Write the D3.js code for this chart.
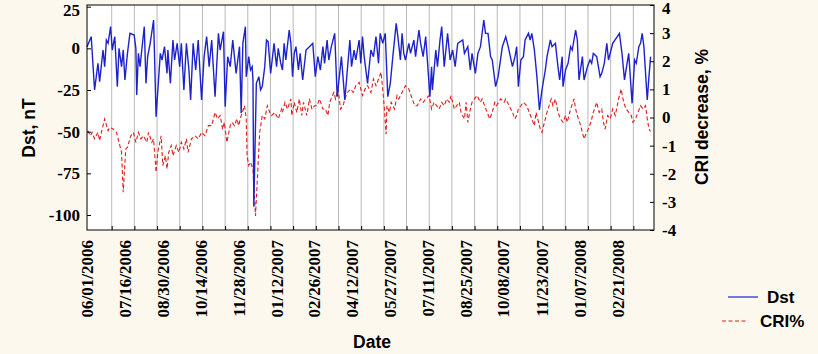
<!DOCTYPE html>
<html>
<head>
<meta charset="utf-8">
<script src="https://cdn.jsdelivr.net/npm/d3@7"></script>
<style>
  body { margin: 0; background: #fcf8ee; }
</style>
</head>
<body>
<div id="chart"></div>
<script>
// Data: day offsets from 06/01/2006 and values
const startDate = new Date(2006, 5, 1);
const spanDays = 673;

const dstDay = [0, 5, 9, 13, 15, 19, 21, 23, 25, 28, 30, 33, 36, 38, 41, 43, 45, 48, 51, 56, 58, 59, 61, 63, 65, 68, 70, 72, 75, 79, 80, 82, 87, 89, 92, 95, 96, 99, 102, 104, 107, 110, 112, 115, 118, 121, 123, 126, 129, 132, 136, 139, 142, 145, 148, 152, 156, 158, 162, 164, 167, 170,
  173, 177, 181, 183, 185, 188, 189, 192, 194, 196, 197, 198, 201, 204, 206, 208, 211, 213, 215, 218, 222, 225, 227, 230, 232, 234, 236, 240, 242, 244, 246, 248, 251, 253, 256, 260, 264, 268, 271, 274, 277, 280, 282, 285, 287, 290, 294, 297, 302, 306, 312, 314, 317, 319, 323, 325, 327, 329, 333, 337,
  340, 343, 346, 348, 351, 354, 357, 360, 363, 367, 369, 372, 374, 376, 378, 382, 384, 388, 390, 394, 396, 399, 402, 404, 407, 409, 410, 414, 416, 419, 421, 424, 428, 431, 434, 437, 440, 446, 448, 452, 455, 457, 461, 464, 467, 471, 473, 476, 479, 481, 485, 488, 493, 497, 500, 505,
  508, 510, 512, 515, 518, 520, 524, 526, 528, 531, 534, 537, 540, 544, 546, 550, 552, 556, 559, 561, 564, 565, 568, 571, 574, 576, 580, 582, 584, 588, 590, 594, 597, 599, 601, 605, 609, 611, 614, 617, 619, 622, 624, 632, 635, 638, 641, 643, 647, 650, 652, 655, 657, 659, 661, 665, 667, 669];
const dstNT = [1, 7, -25, -9, -20, -1, -11, 5, 3, 13, -1, 7, -23, 0, -11, -1, -19, -3, 9, 8, 0, -28, -3, -11, -1, 13, -21, -5, 3, 17, -1, -41, -3, -7, 1, -15, -1, -21, 5, -7, 3, -11, 3, -25, 3, -13, -31, 3, -13, 5, -31, -5, 7, -11, 5, -29, 9, -1, 10, -35, -5, -11,
  5, -15, 1, -39, 3, 13, -17, -5, -13, -11, -19, -95, -21, -17, -25, -23, -11, 5, 4, -15, 3, -11, 0, -9, -13, 3, -7, 11, 3, -17, -3, 1, -13, -3, -19, -1, 1, 3, -17, -5, -13, 1, -9, 5, -7, 1, 9, -29, -5, -31, 5, -11, -1, -7, 5, -9, 7, -5, -21, -1,
  -5, 7, -9, 9, 3, 9, -29, -21, -5, 15, 7, -7, 9, -3, -7, 3, -3, 5, -5, 11, 3, -5, 7, -7, -29, -11, -25, -1, -11, 5, 13, -11, 9, -7, -1, -11, 3, 5, -3, 1, -13, -3, -15, -3, 1, 17, 9, 9, -5, -7, -23, -17, 1, 7, 1, -11,
  -5, 1, -23, -7, -5, 5, 9, 5, 9, -1, -17, -37, -25, -13, -5, 5, 1, 3, -11, -19, -5, -23, -13, -9, 1, -1, 11, 5, -19, -5, -19, -11, -7, -9, -3, -5, -17, -15, -9, 3, -7, -1, 3, 9, -3, -19, -9, -3, -33, -7, -9, 1, 3, 9, 1, -31, -17, -5];

const criDay = [1, 4, 6, 9, 13, 15, 18, 21, 25, 27, 31, 35, 39, 41, 43, 46, 48, 52, 55, 58, 61, 64, 67, 71, 73, 77, 79, 82, 84, 88, 90, 93, 95, 97, 100, 102, 106, 109, 112, 115, 118, 120, 124, 128, 132, 136, 140, 144, 148, 152, 155, 158, 161, 163, 166, 170,
  172, 175, 178, 180, 183, 187, 189, 190, 192, 194, 197, 198, 200, 203, 205, 208, 211, 214, 217, 219, 223, 227, 231, 232, 235, 238, 242, 243, 246, 249, 252, 255, 257, 261, 264, 267, 270, 273, 276, 280, 283, 286, 288, 293, 295, 298, 301, 304, 306, 309, 313, 316, 319, 323, 325, 327, 330, 333, 337,
  340, 343, 349, 351, 353, 355, 356, 359, 361, 365, 368, 370, 374, 378, 382, 386, 389, 392, 396, 399, 402, 406, 409, 412, 415, 418, 421, 424, 427, 430, 432, 436, 439, 442, 444, 448, 450, 452, 455, 457, 460, 463, 467, 469, 472, 475, 478, 481, 484, 486, 491, 495, 497, 501, 505, 508,
  510, 512, 518, 522, 525, 528, 531, 533, 535, 538, 540, 543, 546, 551, 553, 556, 559, 562, 565, 568, 570, 574, 578, 580, 582, 586, 588, 590, 593, 595, 598, 601, 605, 608, 611, 613, 615, 618, 621, 624, 627, 631, 634, 637, 640, 643, 646, 648, 651, 654, 657, 660, 663, 665, 667, 669];
const criPct = [-0.47, -0.65, -0.53, -0.76, -0.53, -0.82, -0.41, -0.05, -0.47, -0.35, -0.41, -0.53, -1.0, -1.24, -2.66, -1.12, -1.06, -0.65, -0.53, -0.88, -0.53, -0.76, -0.65, -0.88, -0.53, -0.88, -0.76, -1.95, -1.24, -0.65, -1.71, -1.36, -1.83, -1.24, -1.0, -1.36, -1.0, -1.24, -0.88, -1.12, -0.76, -1.24, -0.76, -0.65, -0.76, -0.53, -0.65, -0.29, -0.29, 0.18, -0.05, 0.07, -0.41, -0.17, -0.88, -0.29,
  -0.17, -0.29, -0.05, -0.29, 0.07, 0.42, -0.05, -1.36, -1.71, -1.59, -1.83, -2.42, -3.5, -1.71, -0.53, 0.07, -0.05, 0.42, 0.18, 0.07, 0.18, -0.05, 0.3, 0.18, 0.54, 0.3, 0.66, 0.07, 0.54, 0.18, 0.66, 0.07, 0.54, 0.07, 0.66, 0.3, 0.42, 0.42, 0.66, 0.3, 0.3, 0.07, 0.54, 0.89, 0.66, 1.01, 0.3, 0.42, 0.66, 0.89, 1.01, 0.89, 1.13, 1.25, 1.01, 0.78, 1.01, 1.13, 0.89,
  1.37, 1.13, 1.61, 1.01, 0.3, -0.59, 0.42, 0.18, 0.54, 0.3, 0.78, 0.66, 0.89, 1.13, 1.01, 0.66, 0.42, 0.42, 0.66, 0.54, 0.66, 0.78, 0.3, 0.54, 0.42, 0.3, 0.54, 0.42, 0.66, 0.54, 0.78, 0.3, 0.42, 0.54, 0.18, -0.05, 0.54, -0.17, 0.3, 0.54, 0.66, 0.78, 0.54, 0.66, 0.42, 0.18, -0.05, 0.18, 0.54, 0.42, 0.66, 0.54, 0.66, 0.42, 0.18, -0.05,
  0.07, 0.3, 0.54, 0.42, 0.18, -0.05, -0.29, 0.18, -0.05, -0.41, -0.53, -0.17, 0.18, 0.66, 0.42, 0.66, 0.18, -0.05, -0.17, 0.07, -0.17, 0.3, 0.66, 0.3, 0.07, -0.29, -0.53, -0.76, -0.53, -0.41, -0.17, 0.18, 0.54, 0.18, 0.3, -0.17, -0.41, 0.07, -0.05, 0.3, 0.07, 0.66, 1.01, 0.54, 0.3, 0.18, 0.07, -0.17, -0.05, 0.18, 0.42, 0.3, 0.42, -0.05, -0.41, -0.5];

const dateLabels = ["06/01/2006", "07/16/2006", "08/30/2006", "10/14/2006", "11/28/2006", "01/12/2007", "02/26/2007", "04/12/2007",
  "05/27/2007", "07/11/2007", "08/25/2007", "10/08/2007", "11/23/2007", "01/07/2008", "02/21/2008"];
const dstTicks = [-100, -75, -50, -25, 0, 25];
const criTicks = [-4, -3, -2, -1, 0, 1, 2, 3, 4];

// Set dimensions and margins
const margin = { top: 5, right: 164, bottom: 124, left: 87 };
const width = 818 - margin.left - margin.right;
const height = 354 - margin.top - margin.bottom;

const svg = d3.select("#chart")
    .append("svg")
    .attr("width", 818)
    .attr("height", 354)
    .append("g")
    .attr("transform", `translate(${margin.left}, ${margin.top})`);

// Scales
const xScale = d3.scaleTime()
    .domain([startDate, d3.timeDay.offset(startDate, spanDays)])
    .range([0, width]);

const yDst = d3.scaleLinear()
    .domain([-109, 26])
    .range([height, 0]);

const yCri = d3.scaleLinear()
    .domain([-4, 4])
    .range([height, 0]);

// plot background
svg.append("rect")
    .attr("width", width)
    .attr("height", height)
    .attr("fill", "#fff");

// vertical grid, 25 equal parts
const gridStep = spanDays / 25;
const gridDates = d3.range(1, 25).map(i => new Date(+startDate + (2.4 + i * gridStep) * 864e5));

svg.append("g")
    .selectAll("line")
    .data(gridDates)
    .join("line")
    .attr("x1", d => xScale(d))
    .attr("x2", d => xScale(d))
    .attr("y1", 0)
    .attr("y2", height)
    .attr("stroke", "#b9b9b9")
    .attr("stroke-width", 1);

// Lines
const dstData = dstDay.map((d, i) => ({ date: d3.timeDay.offset(startDate, d), value: dstNT[i] }));
const criData = criDay.map((d, i) => ({ date: d3.timeDay.offset(startDate, d), value: criPct[i] }));

const dstLine = d3.line()
    .x(d => xScale(d.date))
    .y(d => yDst(d.value));

const criLine = d3.line()
    .x(d => xScale(d.date))
    .y(d => yCri(d.value));

svg.append("path")
    .datum(criData)
    .attr("fill", "none")
    .attr("stroke", "#e01c1c")
    .attr("stroke-width", 1.1)
    .attr("stroke-dasharray", "4,2.5")
    .attr("d", criLine);

svg.append("path")
    .datum(dstData)
    .attr("fill", "none")
    .attr("stroke", "#1e22cc")
    .attr("stroke-width", 1.4)
    .attr("d", dstLine);

// Axes
const tickFont = g => g.selectAll("text")
    .style("font-family", "'Liberation Serif', 'Times New Roman', serif")
    .style("font-size", "17px")
    .style("font-weight", "bold")
    .attr("fill", "#000");

svg.append("g")
    .call(d3.axisLeft(yDst).tickValues(dstTicks).tickSize(-4).tickPadding(7).tickFormat(d => String(d)))
    .call(tickFont);

svg.append("g")
    .attr("transform", `translate(${width}, 0)`)
    .call(d3.axisRight(yCri).tickValues(criTicks).tickSize(-4).tickPadding(8).tickFormat(d => String(d)))
    .call(tickFont);

svg.append("g")
    .attr("transform", `translate(0, ${height})`)
    .call(d3.axisBottom(xScale).tickValues(gridDates).tickSize(-4).tickFormat(""));

svg.selectAll(".domain").remove();
svg.selectAll(".tick line").attr("stroke", "#000");

// keep the top labels inside the picture
svg.selectAll(".tick text").filter(d => d === 25 || d === 4).attr("dy", "0.5em");

// date labels
const parseDate = d3.timeParse("%m/%d/%Y");
svg.append("g")
    .selectAll("text")
    .data(dateLabels)
    .join("text")
    .attr("transform", d => `translate(${xScale(parseDate(d))}, ${height + 10}) rotate(-90)`)
    .attr("dy", "0.35em")
    .attr("text-anchor", "end")
    .style("font-family", "'Liberation Serif', 'Times New Roman', serif")
    .style("font-size", "17px")
    .style("font-weight", "bold")
    .text(d => d);

// border
svg.append("rect")
    .attr("width", width)
    .attr("height", height)
    .attr("fill", "none")
    .attr("stroke", "#000")
    .attr("stroke-width", 1);

// Axis titles
const titleFont = s => s
    .style("font-family", "'Liberation Sans', Arial, sans-serif")
    .style("font-size", "17.5px")
    .style("font-weight", "bold")
    .attr("fill", "#000");

svg.append("text")
    .attr("transform", `translate(${-58}, ${123}) rotate(-90)`)
    .attr("text-anchor", "middle")
    .attr("dy", "0.35em")
    .call(titleFont)
    .text("Dst, nT");

svg.append("text")
    .attr("transform", `translate(${width + 48}, ${112}) rotate(-90)`)
    .attr("text-anchor", "middle")
    .attr("dy", "0.35em")
    .call(titleFont)
    .text("CRI decrease, %");

svg.append("text")
    .attr("x", 285)
    .attr("y", 343)
    .attr("text-anchor", "middle")
    .call(titleFont)
    .text("Date");

// Legend
const legend = svg.append("g").attr("transform", `translate(${width + 74}, ${height + 67})`);
const legendItems = [
    { label: "Dst", color: "#1e22cc", dash: null, x1: 0, x2: 30, tx: 39, y: 0 },
    { label: "CRI%", color: "#e01c1c", dash: "4,2.5", x1: -6, x2: 20, tx: 32, y: 24 }
];
legendItems.forEach(it => {
    legend.append("line")
        .attr("x1", it.x1).attr("x2", it.x2)
        .attr("y1", it.y).attr("y2", it.y)
        .attr("stroke", it.color)
        .attr("stroke-width", 1.2)
        .attr("stroke-dasharray", it.dash);
    legend.append("text")
        .attr("x", it.tx)
        .attr("y", it.y)
        .attr("dy", "0.35em")
        .style("font-family", "'Liberation Sans', Arial, sans-serif")
        .style("font-size", "17px")
        .style("font-weight", "bold")
        .text(it.label);
});
</script>
</body>
</html>
